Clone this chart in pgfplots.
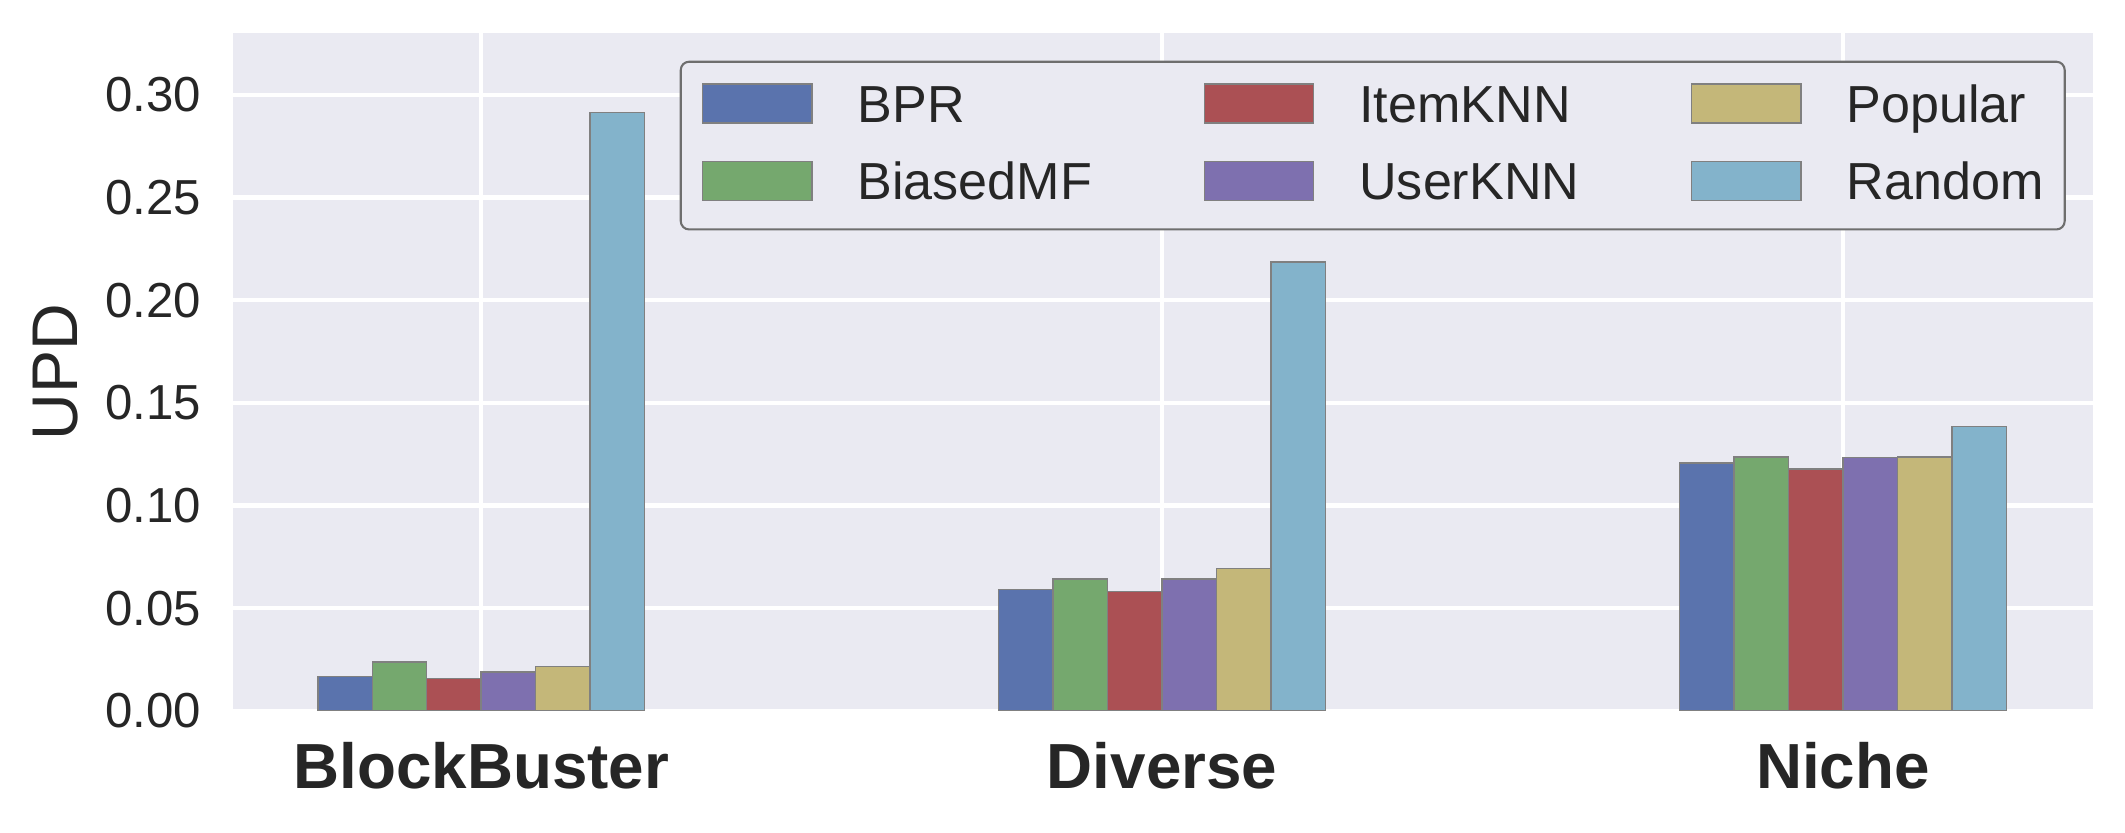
\documentclass[border=0pt]{standalone}
\usepackage{fontspec}
\setmainfont{Liberation Sans}
\usepackage{pgfplots}
\pgfplotsset{compat=1.18}
\definecolor{bgc}{RGB}{234,234,242}
\definecolor{txt}{RGB}{38,38,38}
\definecolor{edgec}{RGB}{128,128,128}
\definecolor{legedge}{RGB}{110,110,110}
\definecolor{cBPR}{RGB}{90,115,173}
\definecolor{cBMF}{RGB}{117,168,110}
\definecolor{cIKNN}{RGB}{171,80,84}
\definecolor{cUKNN}{RGB}{126,112,175}
\definecolor{cPop}{RGB}{196,183,121}
\definecolor{cRand}{RGB}{131,179,203}
\begin{document}
\begin{tikzpicture}
\begin{axis}[
  name=ax,
  scale only axis, width=446.4pt, height=162.6pt,
  xmin=-0.365, xmax=2.367, ymin=0, ymax=0.330,
  axis background/.style={fill=bgc},
  axis line style={draw=none},
  tick style={draw=none},
  major tick length=0pt,
  grid=major,
  grid style={white, line width=1pt},
  xtick={0,1,2},
  xticklabels={BlockBuster,Diverse,Niche},
  xticklabel style={font=\fontsize{15.3}{18}\selectfont\bfseries, text=txt, inner sep=0pt, anchor=north, yshift=-7.4pt},
  ytick={0,0.05,0.10,0.15,0.20,0.25,0.30},
  yticklabel style={font=\fontsize{11.8}{14}\selectfont, text=txt, inner sep=0pt, anchor=east, xshift=-7.4pt,
    /pgf/number format/.cd, fixed, fixed zerofill, precision=2},
  /pgf/number format/assume math mode=true,
  legend columns=3,
  legend cell align=left,
  legend image code/.code={%
    \draw[#1, sharp corners] (0pt,-4.65pt) rectangle (26.2pt,4.65pt);
    \path[draw=none, fill=none] (0pt,-6.45pt) -- (0pt,4.65pt);},
  legend style={
    at={(0.9855,0.9596)}, anchor=north east,
    draw=legedge, line width=0.5pt, fill=bgc, rounded corners=2pt,
    font=\fontsize{12.5}{14}\selectfont, text=txt,
    inner xsep=5.1pt, inner ysep=5.2pt,
    nodes={inner sep=0pt, text height=8.9pt, text depth=0pt},
    row sep=7.3pt,
    /tikz/every odd column/.append style={column sep=10.8pt},
    /tikz/every even column/.append style={column sep=26.8pt},
  },
]
\addplot[ybar, bar width=0.08, bar shift=-0.2, fill=cBPR, draw=edgec, line width=0.35pt, forget plot]
  coordinates {(0,0.0168) (1,0.0592) (2,0.1208)};
\addplot[ybar, bar width=0.08, bar shift=-0.12, fill=cBMF, draw=edgec, line width=0.35pt, forget plot]
  coordinates {(0,0.0238) (1,0.0642) (2,0.1237)};
\addplot[ybar, bar width=0.08, bar shift=-0.04, fill=cIKNN, draw=edgec, line width=0.35pt, forget plot]
  coordinates {(0,0.0158) (1,0.0581) (2,0.1177)};
\addplot[ybar, bar width=0.08, bar shift=0.04, fill=cUKNN, draw=edgec, line width=0.35pt, forget plot]
  coordinates {(0,0.0189) (1,0.0642) (2,0.1234)};
\addplot[ybar, bar width=0.08, bar shift=0.12, fill=cPop, draw=edgec, line width=0.35pt, forget plot]
  coordinates {(0,0.0217) (1,0.0693) (2,0.1237)};
\addplot[ybar, bar width=0.08, bar shift=0.2, fill=cRand, draw=edgec, line width=0.35pt, forget plot]
  coordinates {(0,0.2914) (1,0.2186) (2,0.1386)};
\addlegendimage{fill=cBPR, draw=edgec, line width=0.35pt}
\addlegendentry{BPR}
\addlegendimage{fill=cIKNN, draw=edgec, line width=0.35pt}
\addlegendentry{ItemKNN}
\addlegendimage{fill=cPop, draw=edgec, line width=0.35pt}
\addlegendentry{Popular}
\addlegendimage{fill=cBMF, draw=edgec, line width=0.35pt}
\addlegendentry{BiasedMF}
\addlegendimage{fill=cUKNN, draw=edgec, line width=0.35pt}
\addlegendentry{UserKNN}
\addlegendimage{fill=cRand, draw=edgec, line width=0.35pt}
\addlegendentry{Random}
\end{axis}
\node[rotate=90, font=\fontsize{15.5}{18}\selectfont, text=txt, inner sep=0pt] at ([xshift=-42.6pt]ax.west) {UPD};
\pgfresetboundingbox
\path[use as bounding box] ([xshift=-55.85pt, yshift=-29.3pt]ax.south west) rectangle ([xshift=7.75pt, yshift=8pt]ax.north east);
\end{tikzpicture}
\end{document}
